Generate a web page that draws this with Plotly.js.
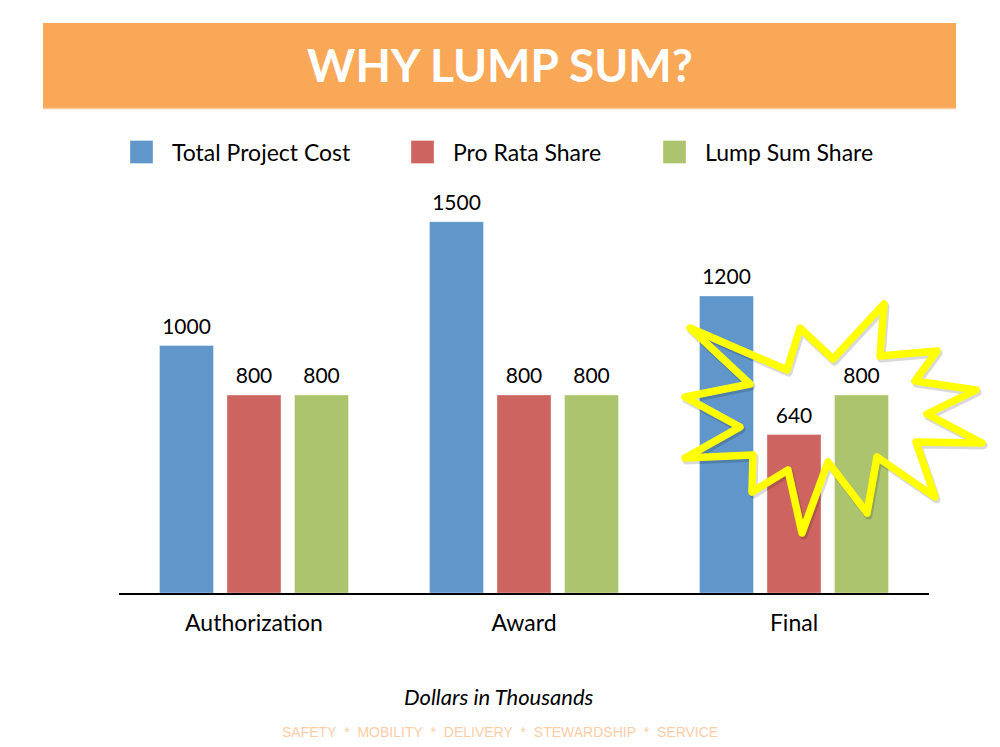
<!DOCTYPE html>
<html>
<head>
<meta charset="utf-8">
<script src="https://cdn.plot.ly/plotly-3.0.1.min.js"></script>
<style>
  html, body { margin: 0; padding: 0; background: #ffffff; }
  #chart { width: 1000px; height: 747px; }
  #chart .shapelayer path { stroke-linejoin: round; }
</style>
</head>
<body>
<div id="chart"></div>
<script>
// ---- Data ----
const categories = ["Authorization", "Award", "Final"];
const seriesNames = ["Total Project Cost", "Pro Rata Share", "Lump Sum Share"];
const totalProjectCost = [1000, 1500, 1200];
const proRataShare = [800, 800, 640];
const lumpSumShare = [800, 800, 800];
const seriesColors = ["#6096CA", "#CD645F", "#ADC46E"];
const chartTitle = "WHY LUMP SUM?";
const unitNote = "Dollars in Thousands";
const footerText = "SAFETY\u00a0\u00a0*\u00a0\u00a0MOBILITY\u00a0\u00a0*\u00a0\u00a0DELIVERY\u00a0\u00a0*\u00a0\u00a0STEWARDSHIP\u00a0\u00a0*\u00a0\u00a0SERVICE";

// ---- Layout geometry (pixels) ----
const W = 1000, H = 747;
const M = { l: 119, r: 71, t: 197, b: 154 };
const plotW = W - M.l - M.r, plotH = H - M.t - M.b;
const px = x => (x - M.l) / plotW;          // page x -> paper x
const py = y => (H - M.b - y) / plotH;      // page y -> paper y

const FONT = "Lato, 'Open Sans', sans-serif";

const seriesValues = [totalProjectCost, proRataShare, lumpSumShare];
const traces = seriesValues.map((vals, i) => ({
  type: "bar",
  name: seriesNames[i],
  x: categories,
  y: vals,
  marker: { color: seriesColors[i], line: { color: "rgba(255,255,255,0.35)", width: 1 } },
  text: vals.map(String),
  textposition: "outside",
  textfont: { family: FONT, size: 21, color: "#000000" },
  cliponaxis: false,
  showlegend: false,
  hoverinfo: "x+y+name"
}));

// ---- Decorations ----
const shapes = [];
// Orange title banner
shapes.push({ type: "rect", xref: "paper", yref: "paper", layer: "below",
  x0: px(43), x1: px(956), y0: py(108), y1: py(23),
  fillcolor: "#F9A857", line: { width: 0 } });
shapes.push({ type: "line", xref: "paper", yref: "paper", layer: "below",
  x0: px(43), x1: px(956), y0: py(108.5), y1: py(108.5),
  line: { color: "#FBCB9C", width: 1.5 } });

// Legend swatches (manual legend)
const legendSwatchX = [130, 411, 663];
const legendY = 152, sw = 23;
seriesNames.forEach((n, i) => {
  shapes.push({ type: "rect", xref: "paper", yref: "paper",
    x0: px(legendSwatchX[i]), x1: px(legendSwatchX[i] + sw),
    y0: py(legendY + sw / 2), y1: py(legendY - sw / 2),
    fillcolor: seriesColors[i], line: { color: "rgba(255,255,255,0.35)", width: 1 } });
});

// Yellow burst (highlight)
const star = [[690,328],[787,370],[800,328],[833,359],[884,304],[880,356],[937,351],[915,381],
  [976,390],[927,414],[982,443],[916,442],[935,497],[877,457],[867,513],[828,462],
  [802,533],[788,470],[752,492],[753,455],[685,458],[740,427],[685,397],[750,384]];
const starPath = (dx, dy) => star.map((p, i) =>
  (i === 0 ? "M" : "L") + px(p[0] + dx).toFixed(5) + "," + py(p[1] + dy).toFixed(5)).join(" ") + " Z";
shapes.push({ type: "path", xref: "paper", yref: "paper", layer: "above",
  path: starPath(1.5, 2.5), line: { color: "rgba(0,0,0,0.15)", width: 8 } });
shapes.push({ type: "path", xref: "paper", yref: "paper", layer: "above",
  path: starPath(0, 0), line: { color: "#FFFF00", width: 7.5 } });

const annotations = [];
seriesNames.forEach((n, i) => {
  annotations.push({ xref: "paper", yref: "paper", x: px(legendSwatchX[i] + 40), y: py(legendY),
    xanchor: "left", yanchor: "middle", showarrow: false, text: n,
    font: { family: FONT, size: 23, color: "#000000" } });
});
annotations.push({ xref: "paper", yref: "paper", x: px(499), y: py(696),
  xanchor: "center", yanchor: "middle", showarrow: false,
  text: "<i>" + unitNote + "</i>", font: { family: FONT, size: 22, color: "#000000" } });
annotations.push({ xref: "paper", yref: "paper", x: px(499.5), y: py(732),
  xanchor: "center", yanchor: "middle", showarrow: false,
  text: footerText, font: { family: "'Liberation Sans', Arial, sans-serif", size: 14, color: "#FBCDA6" } });

const layout = {
  width: W, height: H,
  margin: M,
  paper_bgcolor: "#ffffff", plot_bgcolor: "#ffffff",
  title: { text: chartTitle, font: { family: FONT, size: 46, color: "#ffffff", weight: 700 },
    x: 0.5, xanchor: "center", xref: "container", y: 1 - 66 / H, yanchor: "middle", yref: "container" },
  barmode: "group", bargap: 0.25, bargroupgap: 0.2,
  xaxis: { type: "category", range: [-0.5, 2.5], showline: true, linecolor: "#000000", linewidth: 1.5,
    ticks: "", showgrid: false, zeroline: false, ticklabelstandoff: 9,
    tickfont: { family: FONT, size: 23, color: "#000000" }, fixedrange: true },
  yaxis: { range: [0, 1600], showgrid: false, zeroline: false, showticklabels: false,
    showline: false, ticks: "", fixedrange: true },
  showlegend: false,
  shapes: shapes,
  annotations: annotations
};

Plotly.newPlot("chart", traces, layout, { displayModeBar: false, staticPlot: true }).then(gd => {
  // nudge the outside value labels a little higher, as in the reference
  gd.querySelectorAll(".bartext").forEach(t => {
    const tr = t.getAttribute("transform") || "";
    t.setAttribute("transform", "translate(0,-5) " + tr);
  });
});
</script>
</body>
</html>
